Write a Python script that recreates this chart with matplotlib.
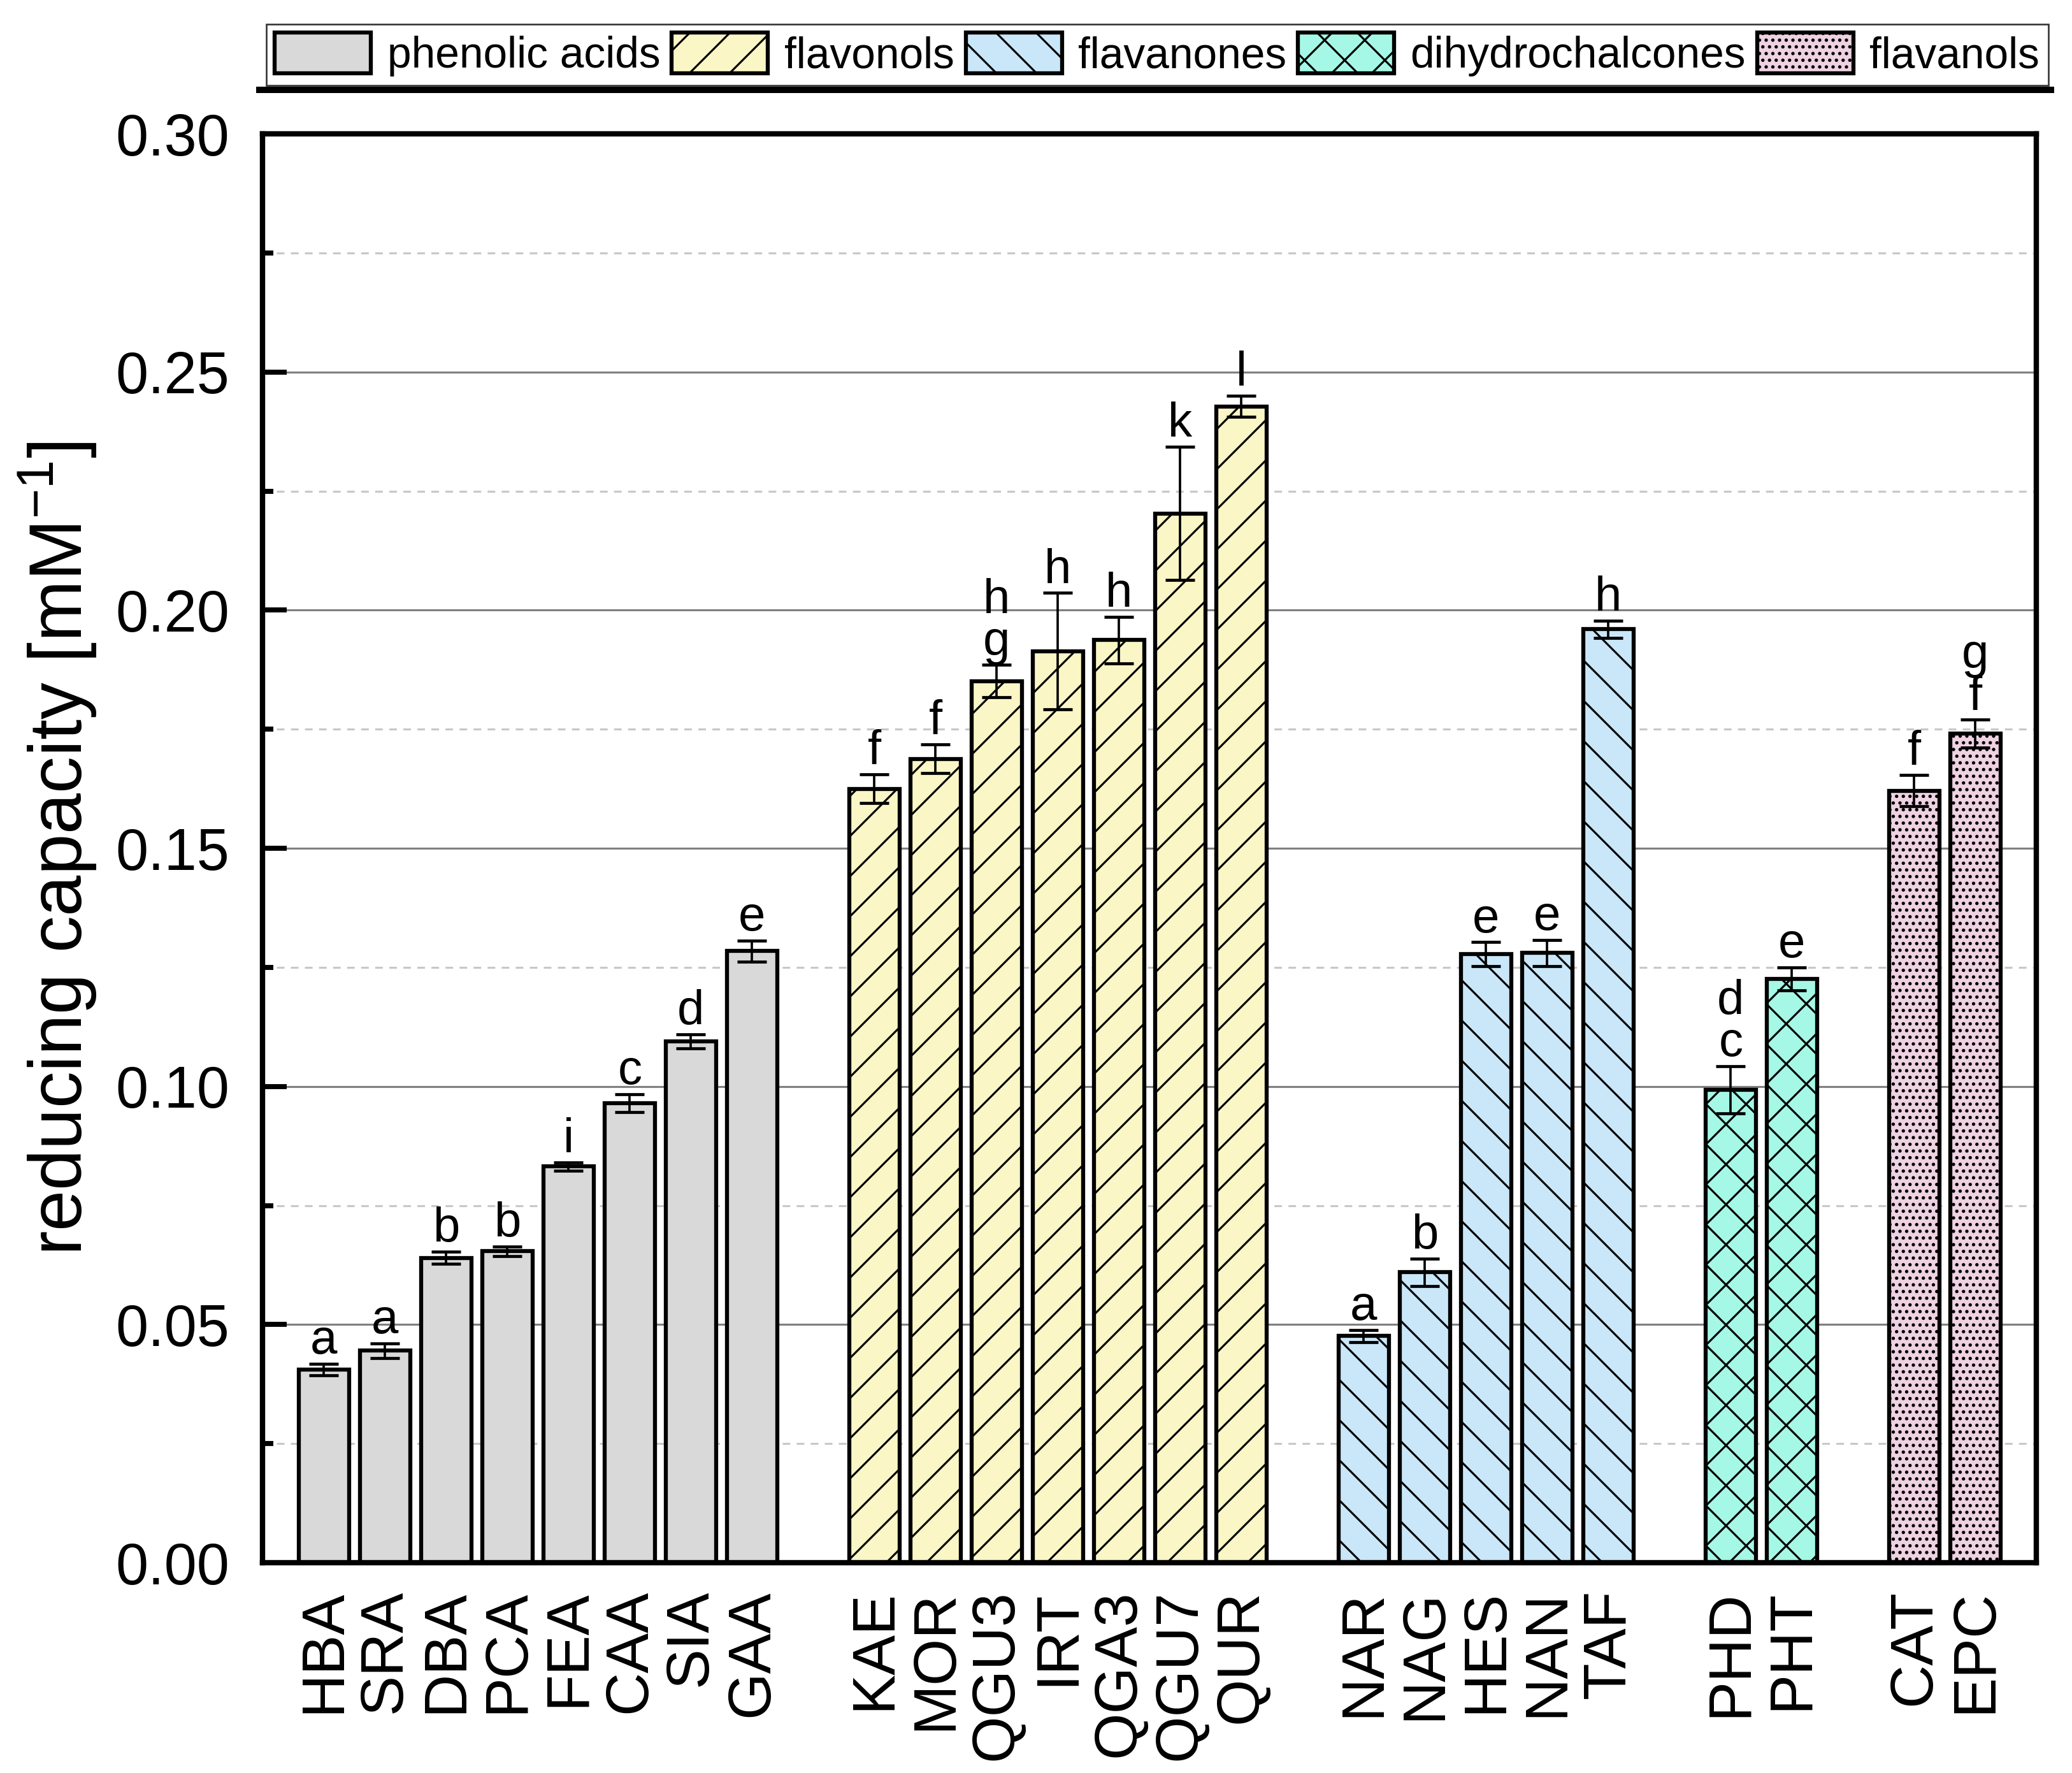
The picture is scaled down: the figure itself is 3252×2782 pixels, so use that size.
import numpy as np
import matplotlib.pyplot as plt
from matplotlib.lines import Line2D
from matplotlib.ticker import MultipleLocator, FormatStrFormatter

plt.rcParams['font.family'] = ['Liberation Sans', 'DejaVu Sans']
plt.rcParams['mathtext.fontset'] = 'custom'
plt.rcParams['mathtext.rm'] = 'Liberation Sans'
plt.rcParams['mathtext.it'] = 'Liberation Sans:italic'
plt.rcParams['hatch.linewidth'] = 0.6

# Группы соединений
groups = ['phenolic acids', 'flavonols', 'flavanones', 'dihydrochalcones', 'flavanols']

phenolic_names = ['HBA', 'SRA', 'DBA', 'PCA', 'FEA', 'CAA', 'SIA', 'GAA']
phenolic_vals = [0.0406, 0.0445, 0.0640, 0.0654, 0.0832, 0.0965, 0.1095, 0.1284]
phenolic_err = [0.0012, 0.0016, 0.0013, 0.0010, 0.0009, 0.0019, 0.0015, 0.0022]
phenolic_letters = ['a', 'a', 'b', 'b', 'i', 'c', 'd', 'e']

flavonol_names = ['KAE', 'MOR', 'QGU3', 'IRT', 'QGA3', 'QGU7', 'QUR']
flavonol_vals = [0.1625, 0.1688, 0.1851, 0.1914, 0.1937, 0.2203, 0.2428]
flavonol_err = [0.0030, 0.0030, 0.0034, 0.0122, 0.0049, 0.0140, 0.0022]
flavonol_letters = ['f', 'f', 'h\ng', 'h', 'h', 'k', 'l']

flavanone_names = ['NAR', 'NAG', 'HES', 'NAN', 'TAF']
flavanone_vals = [0.0476, 0.0610, 0.1278, 0.1280, 0.1960]
flavanone_err = [0.0013, 0.0029, 0.0025, 0.0028, 0.0018]
flavanone_letters = ['a', 'b', 'e', 'e', 'h']

dihydro_names = ['PHD', 'PHT']
dihydro_vals = [0.0993, 0.1226]
dihydro_err = [0.0050, 0.0024]
dihydro_letters = ['d\nc', 'e']

flavanol_names = ['CAT', 'EPC']
flavanol_vals = [0.1621, 0.1741]
flavanol_err = [0.0033, 0.0029]
flavanol_letters = ['f', 'g\nf']

# Оформление групп
colors = ['#d9d9d9', '#faf6c6', '#c9e7f8', '#a6f8e6', '#eed2e2']
hatches = ['', '//', '\\\\', 'xx', '......']

names = [phenolic_names, flavonol_names, flavanone_names, dihydro_names, flavanol_names]
values = [phenolic_vals, flavonol_vals, flavanone_vals, dihydro_vals, flavanol_vals]
errors = [phenolic_err, flavonol_err, flavanone_err, dihydro_err, flavanol_err]
letters = [phenolic_letters, flavonol_letters, flavanone_letters, dihydro_letters, flavanol_letters]

dpi = 378
fig = plt.figure(figsize=(3252 / dpi, 2782 / dpi), dpi=dpi)
ax = fig.add_axes([0.1268, 0.1186, 0.9829 - 0.1268, 0.9245 - 0.1186])

handles = []
all_pos, all_names = [], []
start = 0
for g in range(len(groups)):
    n = len(names[g])
    pos = start + np.arange(n)
    bars = ax.bar(pos, values[g], width=0.82, color=colors[g], hatch=hatches[g],
                  edgecolor='black', linewidth=1.2, zorder=2)
    handles.append(bars)
    ax.errorbar(pos, values[g], yerr=errors[g], fmt='none', ecolor='black',
                elinewidth=0.7, capsize=4.3, capthick=0.9, zorder=3)
    # Буквы над столбиками
    for x, v, e, lab in zip(pos, values[g], errors[g], letters[g]):
        for k, line in enumerate(reversed(lab.split('\n'))):
            ax.annotate(line, (x, v + e), xytext=(0, 3 + 12.5 * k),
                        textcoords='offset points', ha='center', va='baseline',
                        fontsize=14.5, zorder=4)
    all_pos.extend(pos)
    all_names.extend(names[g])
    start += n + 1

ax.set_xlim(-1, start - 1)
ax.set_ylim(0, 0.30)

ax.set_xticks(all_pos)
ax.set_xticklabels(all_names, rotation=90)
ax.tick_params(axis='x', length=0, pad=8, labelsize=18)

ax.yaxis.set_major_locator(MultipleLocator(0.05))
ax.yaxis.set_minor_locator(MultipleLocator(0.025))
ax.yaxis.set_major_formatter(FormatStrFormatter('%.2f'))
ax.tick_params(axis='y', which='major', direction='in', length=7.2, width=1.5,
               pad=10, labelsize=17.5)
ax.tick_params(axis='y', which='minor', direction='in', length=3.2, width=1.5)

ax.set_axisbelow(True)
ax.yaxis.grid(True, which='major', color='#808080', lw=0.6)
ax.yaxis.grid(True, which='minor', color='#c8c8c8', lw=0.6, linestyle=(0, (3.8, 3.2)))

for sp in ax.spines.values():
    sp.set_linewidth(1.6)

ax.set_ylabel('reducing capacity [mM$^{-1}$]', fontsize=22, labelpad=5)

leg = ax.legend(handles, groups, loc='lower left', bbox_to_anchor=(0.002, 1.034),
                borderaxespad=0, ncol=5, fontsize=12.9, handlelength=2.23,
                handleheight=1.08, handletextpad=0.37, columnspacing=0.27,
                borderpad=0.2, fancybox=False, edgecolor='#333333', framealpha=1)
leg.get_frame().set_linewidth(0.5)

# Толстая линия под легендой
ax.add_line(Line2D([-0.002, 1.008], [1.031, 1.031], transform=ax.transAxes,
                   color='black', lw=1.9, clip_on=False))

fig.savefig('out.png', dpi=dpi)
